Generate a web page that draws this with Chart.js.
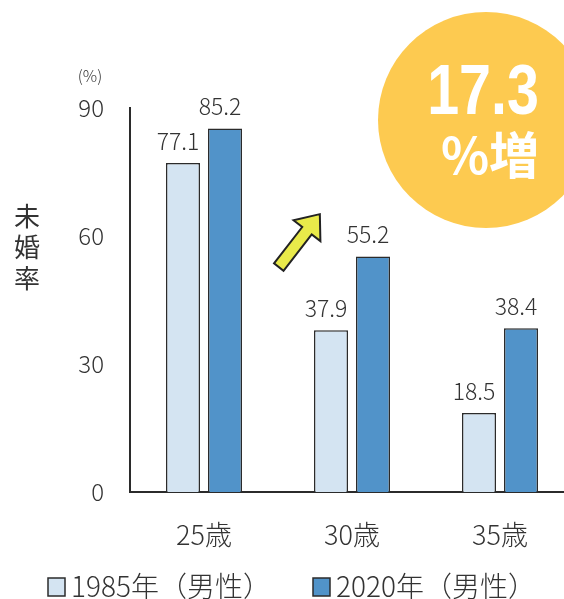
<!DOCTYPE html>
<html>
<head>
<meta charset="utf-8">
<script src="https://cdn.jsdelivr.net/npm/chart.js@4"></script>
<style>
  html, body { margin: 0; padding: 0; background: #fff; overflow: hidden; }
  #wrap { width: 574px; height: 599px; }
</style>
</head>
<body>
<div id="wrap"><canvas id="chart" width="574" height="599"></canvas></div>
<script>
// 年齢別の未婚率（男性）
const ages = ["25歳", "30歳", "35歳"];
const rate1985 = [77.1, 37.9, 18.5];
const rate2020 = [85.2, 55.2, 38.4];
const seriesNames = ["1985年（男性）", "2020年（男性）"];
const yTicks = [0, 30, 60, 90];

const FONT = "'Noto Sans CJK JP', 'Noto Sans', sans-serif";
const TEXT = "#333";
const LIGHT = "#d4e4f2";
const DARK = "#5193c9";
const EDGE = "#2b2b2b";

// 数値ラベル・凡例・吹き出しなどの装飾
const decor = {
  id: "decor",
  afterDatasetsDraw(chart) {
    const ctx = chart.ctx;
    ctx.save();

    // 棒の上の数値
    ctx.font = "300 23px " + FONT;
    ctx.fillStyle = TEXT;
    ctx.textAlign = "center";
    ctx.textBaseline = "alphabetic";
    chart.data.datasets.forEach((ds, i) => {
      chart.getDatasetMeta(i).data.forEach((bar, j) => {
        ctx.fillText(ds.data[j].toFixed(1), bar.x - 5, bar.y - 13);
      });
    });

    // 単位
    ctx.font = "300 16px " + FONT;
    ctx.fillText("(%)", 90, 82);

    // 軸タイトル（縦書き）
    ctx.font = "26px " + FONT;
    ctx.textBaseline = "middle";
    ["未", "婚", "率"].forEach((c, k) => ctx.fillText(c, 27, 216 + k * 31));

    // 凡例
    const items = [
      { x: 48, color: LIGHT, text: seriesNames[0] },
      { x: 313, color: DARK, text: seriesNames[1] }
    ];
    ctx.font = "300 28px " + FONT;
    ctx.textAlign = "left";
    items.forEach(it => {
      ctx.fillStyle = it.color;
      ctx.fillRect(it.x, 578, 17, 18);
      ctx.strokeStyle = EDGE;
      ctx.lineWidth = 1.5;
      ctx.strokeRect(it.x, 578, 17, 18);
      ctx.fillStyle = TEXT;
      ctx.fillText(it.text, it.x + 23, 586);
    });

    // 増加の矢印
    ctx.save();
    ctx.translate(299, 241);
    ctx.rotate(-Math.PI * 0.29);
    ctx.beginPath();
    ctx.moveTo(-33, -6);
    ctx.lineTo(13, -6);
    ctx.lineTo(13, -17);
    ctx.lineTo(34, 0);
    ctx.lineTo(13, 17);
    ctx.lineTo(13, 6);
    ctx.lineTo(-33, 6);
    ctx.closePath();
    ctx.fillStyle = "#e9ea4a";
    ctx.fill();
    ctx.strokeStyle = "#222";
    ctx.lineWidth = 2;
    ctx.lineJoin = "miter";
    ctx.stroke();
    ctx.restore();

    // 増加率の円
    ctx.beginPath();
    ctx.arc(486, 120, 108, 0, Math.PI * 2);
    ctx.fillStyle = "#fdca50";
    ctx.fill();
    ctx.fillStyle = "#fff";
    ctx.textAlign = "center";
    ctx.textBaseline = "alphabetic";
    ctx.save();
    ctx.translate(483, 114);
    ctx.scale(0.82, 1);
    ctx.font = "bold 70px 'Liberation Sans', Arial, sans-serif";
    ctx.fillText("17.3", 0, 0);
    ctx.restore();
    ctx.font = "bold 50px " + FONT;
    ctx.fillText("%増", 490, 174);

    ctx.restore();
  }
};

new Chart(document.getElementById("chart"), {
  type: "bar",
  data: {
    labels: ages,
    datasets: [
      {
        label: seriesNames[0],
        data: rate1985,
        backgroundColor: LIGHT,
        borderColor: EDGE,
        borderWidth: 1.5
      },
      {
        label: seriesNames[1],
        data: rate2020,
        backgroundColor: DARK,
        borderColor: EDGE,
        borderWidth: 1.5
      }
    ]
  },
  options: {
    responsive: false,
    animation: false,
    layout: { padding: { top: 108, left: 0, right: 0, bottom: 0 } },
    datasets: {
      bar: { categoryPercentage: 0.5676, barPercentage: 0.81 }
    },
    scales: {
      x: {
        grid: { display: false, drawTicks: false },
        border: { color: EDGE, width: 2 },
        ticks: { color: TEXT, font: { family: FONT, size: 27, weight: 300 }, padding: 27 },
        afterFit(scale) { scale.height = 107; }
      },
      y: {
        min: 0,
        max: 90,
        afterBuildTicks(scale) { scale.ticks = yTicks.map(v => ({ value: v })); },
        grid: { display: false, drawTicks: false },
        border: { color: EDGE, width: 2 },
        ticks: { color: TEXT, font: { family: FONT, size: 24, weight: 300 }, padding: 26 },
        afterFit(scale) { scale.width = 130; }
      }
    },
    plugins: {
      legend: { display: false },
      tooltip: { enabled: false }
    }
  },
  plugins: [decor]
});
</script>
</body>
</html>
